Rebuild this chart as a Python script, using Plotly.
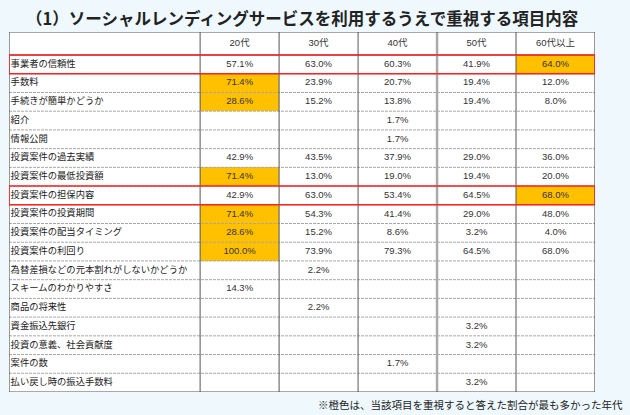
import plotly.graph_objects as go

title = "（1）ソーシャルレンディングサービスを利用するうえで重視する項目内容"
footnote = "※橙色は、当該項目を重視すると答えた割合が最も多かった年代"

age_groups = ["20代", "30代", "40代", "50代", "60代以上"]
items = [
    "事業者の信頼性", "手数料", "手続きが簡単かどうか", "紹介", "情報公開",
    "投資案件の過去実績", "投資案件の最低投資額", "投資案件の担保内容",
    "投資案件の投資期間", "投資案件の配当タイミング", "投資案件の利回り",
    "為替差損などの元本割れがしないかどうか", "スキームのわかりやすさ",
    "商品の将来性", "資金振込先銀行", "投資の意義、社会貢献度", "案件の数",
    "払い戻し時の振込手数料",
]
v20 = [57.1, 71.4, 28.6, None, None, 42.9, 71.4, 42.9, 71.4, 28.6, 100.0, None, 14.3, None, None, None, None, None]
v30 = [63.0, 23.9, 15.2, None, None, 43.5, 13.0, 63.0, 54.3, 15.2, 73.9, 2.2, None, 2.2, None, None, None, None]
v40 = [60.3, 20.7, 13.8, 1.7, 1.7, 37.9, 19.0, 53.4, 41.4, 8.6, 79.3, None, None, None, None, None, 1.7, None]
v50 = [41.9, 19.4, 19.4, None, None, 29.0, 19.4, 64.5, 29.0, 3.2, 64.5, None, None, None, 3.2, 3.2, None, 3.2]
v60 = [64.0, 12.0, 8.0, None, None, 36.0, 20.0, 68.0, 48.0, 4.0, 68.0, None, None, None, None, None, None, None]
series = [v20, v30, v40, v50, v60]

# highlighted (orange) cells: (row index, age-group index)
highlight_cells = [(0, 4), (1, 0), (2, 0), (6, 0), (7, 4), (8, 0), (9, 0), (10, 0)]
# rows outlined in red
red_rows = [0, 7]

# ---- layout geometry (table units) ----
LABEL_W = 2.42
HEADER_H = 1.23
n_rows = len(items)
n_cols = len(age_groups)
x_edges = [0, LABEL_W] + [LABEL_W + i + 1 for i in range(n_cols)]
y_edges = [-HEADER_H] + list(range(n_rows + 1))
x_right = x_edges[-1]
y_top, y_bot = -HEADER_H, n_rows

ORANGE = "#FFC000"
BG = "#EEF8FD"
DARK = "#555555"

# cell fill matrix (header row + data rows) x (label col + value cols)
z = [[0] * (n_cols + 1) for _ in range(n_rows + 1)]
for r, c in highlight_cells:
    z[r + 1][c + 1] = 1

fig = go.Figure()
fig.add_trace(go.Heatmap(
    x=x_edges, y=y_edges, z=z,
    colorscale=[[0, "#FFFFFF"], [0.5, "#FFFFFF"], [0.5, ORANGE], [1, ORANGE]],
    zmin=0, zmax=1, showscale=False, hoverinfo="skip",
))

col_centers = [(x_edges[i + 1] + x_edges[i + 2]) / 2 for i in range(n_cols)]
row_centers = [i + 0.5 for i in range(n_rows)]

NUM_FONT = dict(family="Liberation Sans, Arial, Noto Sans CJK JP", size=9.5, color="#333333")
LBL_FONT = dict(family="Noto Sans CJK JP", size=9.3, color="#222222")

# header
fig.add_trace(go.Scatter(
    x=col_centers, y=[-HEADER_H / 2] * n_cols, text=age_groups, mode="text",
    textfont=NUM_FONT, textposition="middle center", hoverinfo="skip", showlegend=False,
))
# values
for ci, vals in enumerate(series):
    xs, ys, ts = [], [], []
    for ri, v in enumerate(vals):
        if v is not None:
            xs.append(col_centers[ci]); ys.append(row_centers[ri]); ts.append(f"{v:.1f}%")
    fig.add_trace(go.Scatter(
        x=xs, y=ys, text=ts, mode="text", textfont=NUM_FONT,
        textposition="middle center", hoverinfo="skip", showlegend=False,
    ))
# labels
fig.add_trace(go.Scatter(
    x=[0.02] * n_rows, y=row_centers, text=items, mode="text", textfont=LBL_FONT,
    textposition="middle right", hoverinfo="skip", showlegend=False,
))

shapes = []
# horizontal row separators (dashed)
for r in range(1, n_rows):
    shapes.append(dict(type="line", xref="x", yref="y", x0=0, x1=x_right, y0=r, y1=r,
                       line=dict(color="#A8A8A8", width=1, dash="3px,1px")))
# header bottom
shapes.append(dict(type="line", xref="x", yref="y", x0=0, x1=x_right, y0=0, y1=0,
                   line=dict(color=DARK, width=1)))
# vertical lines
for i, xe in enumerate(x_edges[1:-1]):
    thick = (i == 3)
    shapes.append(dict(type="line", xref="x", yref="y", x0=xe, x1=xe, y0=y_top, y1=y_bot,
                       line=dict(color="#AAAAAA" if thick else DARK, width=2.5 if thick else 1)))
# outer border
shapes.append(dict(type="rect", xref="x", yref="y", x0=0, x1=x_right, y0=y_top, y1=y_bot,
                   line=dict(color=DARK, width=1.2)))
# red outlined rows
for r in red_rows:
    shapes.append(dict(type="rect", xref="x", yref="y", x0=0, x1=x_right, y0=r, y1=r + 1,
                       line=dict(color="#FF2020", width=1.6)))

fig.update_layout(
    width=630, height=415, autosize=False,
    margin=dict(l=9, r=35, t=32, b=23),
    paper_bgcolor=BG, plot_bgcolor="#FFFFFF",
    shapes=shapes, showlegend=False,
    xaxis=dict(range=[0, x_right], visible=False, fixedrange=True),
    yaxis=dict(range=[y_bot, y_top], visible=False, fixedrange=True),
    annotations=[
        dict(text=f"<b>{title}</b>", xref="paper", yref="paper", x=0.5, y=1,
             yshift=14, yanchor="middle", xanchor="center", showarrow=False,
             font=dict(family="Noto Sans CJK JP", size=16.5, color="#222222")),
        dict(text=footnote, xref="paper", yref="paper", x=1, y=0, xshift=30, yshift=-12,
             xanchor="right", yanchor="middle", showarrow=False,
             font=dict(family="Noto Sans CJK JP", size=10.5, color="#222222")),
    ],
)

fig.write_html(
    "out.html",
    config={"displayModeBar": False, "staticPlot": True},
    post_script="document.body.style.margin='0';document.body.style.overflow='hidden';",
)
